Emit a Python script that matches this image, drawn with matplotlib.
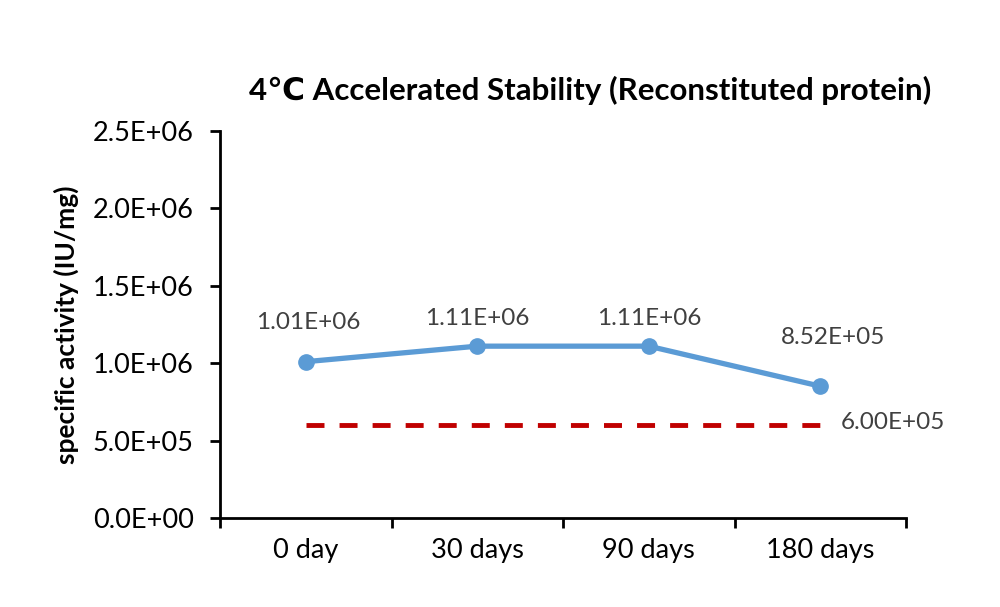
import matplotlib.pyplot as plt
import numpy as np

categories = ["0 day", "30 days", "90 days", "180 days"]
activity = [1.01e6, 1.11e6, 1.11e6, 8.52e5]
activity_labels = ["1.01E+06", "1.11E+06", "1.11E+06", "8.52E+05"]
label_offsets = [(1.5, 28), (0, 20), (0, 20), (9, 35)]
spec_limit = 6.0e5
spec_label = "6.00E+05"
yticks = [0, 5e5, 1e6, 1.5e6, 2e6, 2.5e6]
ytick_labels = ["0.0E+00", "5.0E+05", "1.0E+06", "1.5E+06", "2.0E+06", "2.5E+06"]

plt.rcParams['font.family'] = ['Lato', 'DejaVu Sans']

fig = plt.figure(figsize=(10, 6.07), dpi=100)
ax = fig.add_axes([0.22, 0.146, 0.686, 0.639])

x = np.arange(len(categories))
ax.plot(x, [spec_limit] * len(x), color='#C00000', linewidth=3.5, dashes=(3.7, 3.1), zorder=2)
ax.plot(x, activity, color='#5B9BD5', linewidth=3.8, marker='o', markersize=11, zorder=3)

for xi, v, lab, off in zip(x, activity, activity_labels, label_offsets):
    ax.annotate(lab, (xi, v), xytext=off, textcoords='offset points',
                ha='center', va='center', fontsize=17.5, color='#404040')
ax.annotate(spec_label, (x[-1], spec_limit), xytext=(14.5, 2), textcoords='offset points',
            ha='left', va='center', fontsize=17.5, color='#404040')

ax.set_xlim(-0.5, len(categories) - 0.5)
ax.set_ylim(0, 2.5e6)
ax.set_yticks(yticks)
ax.set_yticklabels(ytick_labels, fontsize=19.5)
ax.set_xticks(np.arange(-0.5, len(categories), 1.0))
ax.set_xticklabels([])
ax.set_xticks(x, minor=True)
ax.set_xticklabels(categories, minor=True, fontsize=19.5)
ax.tick_params(axis='x', which='minor', length=0, pad=14)
ax.tick_params(axis='x', which='major', length=7, width=2, direction='out')
ax.tick_params(axis='y', length=7, width=2, direction='out', pad=12)

for s in ['top', 'right']:
    ax.spines[s].set_visible(False)
for s in ['left', 'bottom']:
    ax.spines[s].set_linewidth(2)

ax.set_ylabel("specific activity (IU/mg)", fontsize=19, fontweight='bold', labelpad=10)
ax.set_title("4℃ Accelerated Stability (Reconstituted protein)", fontsize=22.5,
             fontweight='bold', pad=22, x=0.54)

fig.savefig("out.png", dpi=100)
